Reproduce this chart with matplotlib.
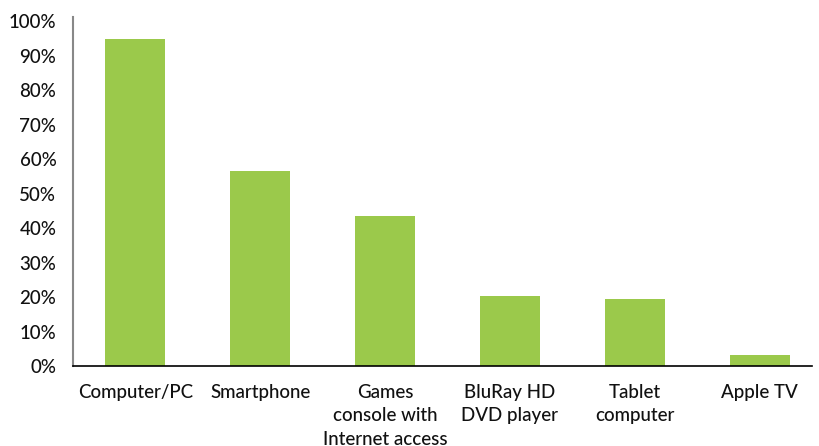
import matplotlib.pyplot as plt
from matplotlib.ticker import FuncFormatter

categories = ['Computer/PC', 'Smartphone', 'Games\nconsole with\nInternet access',
              'BluRay HD\nDVD player', 'Tablet\ncomputer', 'Apple TV']
values = [94.9, 56.6, 43.5, 20.3, 19.4, 3.2]
yticks = [0, 10, 20, 30, 40, 50, 60, 70, 80, 90, 100]

plt.rcParams['font.family'] = ['Lato', 'DejaVu Sans']

fig = plt.figure(figsize=(8.19, 4.46), dpi=100)
ax = fig.add_axes([0.0891, 0.1794, 0.9024, 0.7825])

ax.bar(range(len(categories)), values, width=0.48, color='#9BC94B')

ax.set_xlim(-0.5, 5.42)
ax.set_ylim(0, 101.3)
ax.set_yticks(yticks)
ax.yaxis.set_major_formatter(FuncFormatter(lambda v, p: '%d%%' % v))
ax.set_xticks(range(len(categories)))
ax.set_xticklabels(categories, linespacing=1.45)

ax.tick_params(axis='both', length=0, labelsize=13.5, colors='#111111')
ax.tick_params(axis='x', pad=13)
ax.tick_params(axis='y', pad=12)
for lbl in ax.get_xticklabels() + ax.get_yticklabels():
    lbl.set_fontweight('medium')

for s in ['top', 'right']:
    ax.spines[s].set_visible(False)
ax.spines['left'].set_color('#888888')
ax.spines['left'].set_linewidth(1.5)
ax.spines['bottom'].set_color('#000000')
ax.spines['bottom'].set_linewidth(1.2)

fig.savefig('out.png', dpi=100)
